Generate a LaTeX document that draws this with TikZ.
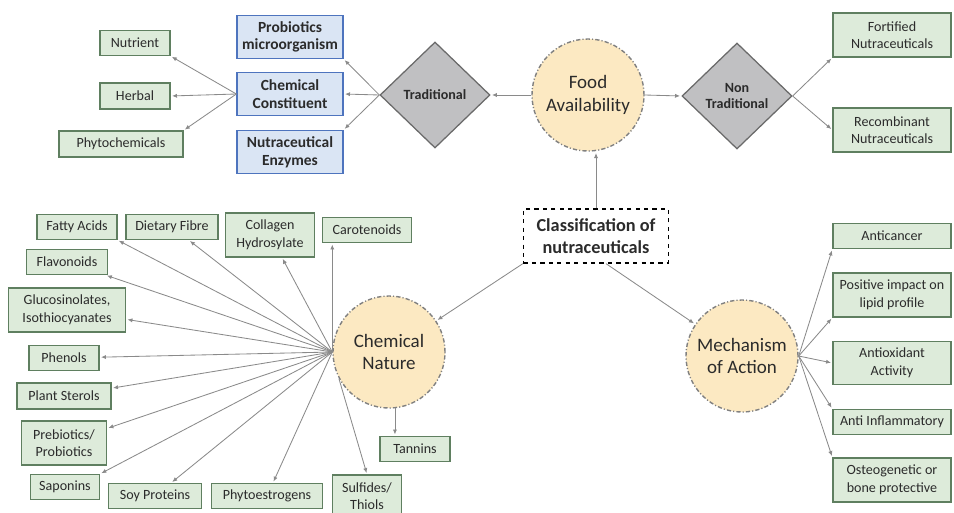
\documentclass[tikz,border=0pt]{standalone}
\usepackage{fontspec}
\setmainfont{Carlito}
\usetikzlibrary{shapes.geometric,arrows.meta}

\definecolor{vert}{HTML}{DDEBDA}
\definecolor{vertbord}{HTML}{5F7F60}
\definecolor{bleu}{HTML}{DAE5F4}
\definecolor{bleubord}{HTML}{4E74BE}
\definecolor{gris}{HTML}{C0C0C2}
\definecolor{grisbord}{HTML}{6A6A6A}
\definecolor{jaune}{HTML}{FCE9C2}
\definecolor{cerclebord}{HTML}{808080}
\definecolor{trait}{HTML}{8A8A8A}
\definecolor{encre}{HTML}{2B2B2B}

\begin{document}
\begin{tikzpicture}[x=0.025cm,y=-0.025cm,
    feuille/.style={draw=vertbord,fill=vert,line width=0.9pt,align=center,inner sep=1pt,
      text=encre,font=\fontsize{10}{12.5}\selectfont},
    bleubox/.style={draw=bleubord,fill=bleu,line width=0.9pt,align=center,inner sep=1pt,
      minimum width=2.65cm,minimum height=1.075cm,text=encre,font=\bfseries\fontsize{11}{12.5}\selectfont},
    losange/.style={diamond,draw=grisbord,fill=gris,line width=0.9pt,align=center,inner sep=0pt,
      minimum width=2.75cm,minimum height=2.65cm,text=encre,font=\bfseries\fontsize{10}{12}\selectfont},
    cercle/.style={circle,draw=cerclebord,fill=jaune,line width=1pt,align=center,inner sep=0pt,
      dash pattern=on 3pt off 1.5pt on 0.8pt off 1.5pt,minimum size=2.8cm,
      text=encre,font=\fontsize{13.5}{16}\selectfont},
    fleche/.style={draw=trait,line width=0.6pt,-{Latex[length=3.5pt,width=3pt]},shorten >=1pt}]

  \useasboundingbox (0,0) rectangle (954,513);

  % Noeud central
  \node[draw,dashed,line width=0.9pt,align=center,minimum width=3.625cm,minimum height=1.35cm,inner sep=1pt,
    text=encre,font=\bfseries\fontsize{13}{15.5}\selectfont] (classif) at (596,236) {Classification of\\ nutraceuticals};

  % Cercles
  \node[cercle] (food) at (588,95) {Food\\ Availability};
  \node[cercle] (chimnat) at (389,352) {Chemical\\ Nature};
  \node[cercle] (meca) at (742,356) {Mechanism\\ of Action};

  % Losanges
  \node[losange] (trad) at (435,95) {Traditional};
  \node[losange] (nontrad) at (737,96) {Non\\ Traditional};

  % Branche traditionnelle
  \node[bleubox] (probio) at (290,37) {Probiotics\\ microorganism};
  \node[bleubox] (chimconst) at (290,94) {Chemical\\ Constituent};
  \node[bleubox] (enzymes) at (290,152) {Nutraceutical\\ Enzymes};
  \node[feuille,minimum width=1.75cm,minimum height=0.625cm] (nutri) at (135,43) {Nutrient};
  \node[feuille,minimum width=1.75cm,minimum height=0.65cm] (herbal) at (135,96) {Herbal};
  \node[feuille,minimum width=3.1cm,minimum height=0.65cm] (phyto) at (121,144) {Phytochemicals};

  % Branche non traditionnelle
  \node[feuille,minimum width=2.95cm,minimum height=1.1cm] (fortif) at (892,35) {Fortified\\ Nutraceuticals};
  \node[feuille,minimum width=2.95cm,minimum height=1.1cm] (recomb) at (892,130) {Recombinant\\ Nutraceuticals};

  % Mecanisme d'action
  \foreach \nom/\y/\h/\txt in {anticancer/236/25/Anticancer,
      positive/295/44/{Positive impact on\\ lipid profile},
      antiox/363/43/{Antioxidant\\ Activity},
      antiinfl/422/25/Anti Inflammatory,
      osteo/480/44/{Osteogenetic or\\ bone protective}} {
    \node[feuille,minimum width=2.95cm,minimum height=\h*0.025cm] (\nom) at (892,\y) {\txt};
  }

  % Nature chimique
  \foreach \nom/\x/\y/\w/\h/\txt in {fatty/77/227/80/25/Fatty Acids,
      dietary/172/227/92/25/Dietary Fibre,
      collagen/270/235/89/44/{Collagen\\ Hydrosylate},
      carot/367/230/89/25/Carotenoids,
      flavo/67/262/81/25/Flavonoids,
      gluco/67/310/117/44/{Glucosinolates,\\ Isothiocyanates},
      phenols/64/358/70/25/Phenols,
      sterols/64/396/94/26/Plant Sterols,
      prebio/64/443/85/44/{Prebiotics/\\ Probiotics},
      saponins/65/487/69/25/Saponins,
      soy/155/496/93/25/Soy Proteins,
      phytoestro/267/496/111/25/Phytoestrogens,
      sulfides/367/496/69/42/{Sulfides/\\ Thiols},
      tannins/415/449/70/25/Tannins} {
    \node[feuille,minimum width=\w*0.025cm,minimum height=\h*0.025cm] (\nom) at (\x,\y) {\txt};
  }

  % Fleches du noeud central
  \draw[fleche] (classif.north) -- (classif.north |- food.south);
  \draw[fleche] (classif.south west) -- (chimnat);
  \draw[fleche] (classif.south) ++(10,0) -- (meca);

  % Fleches du haut
  \draw[fleche] (food.west) -- (trad.east);
  \draw[fleche] (food.east) -- (nontrad.west);
  \draw[fleche] (trad.west) -- (probio.south east);
  \draw[fleche] (trad.west) -- (chimconst.east);
  \draw[fleche] (trad.west) -- (enzymes.north east);
  \draw[fleche] (chimconst.west) -- (nutri.south east);
  \draw[fleche] (chimconst.west) -- (herbal.east);
  \draw[fleche] (chimconst.west) -- (phyto.north east);
  \draw[fleche] (nontrad.east) -- (fortif.south west);
  \draw[fleche] (nontrad.east) -- (recomb.west);

  % Fleches du mecanisme
  \draw[fleche] (meca.east) -- (anticancer.south west);
  \draw[fleche] (meca.east) -- (positive.south west);
  \draw[fleche] (meca.east) -- (antiox.west);
  \draw[fleche] (meca.east) -- (antiinfl.north west);
  \draw[fleche] (meca.east) -- (osteo.north west);

  % Fleches de la nature chimique
  \foreach \cible in {fatty.south east,dietary,collagen,flavo,gluco,phenols,sterols,
      prebio,saponins.north east,soy,phytoestro} {
    \draw[fleche] (chimnat.west) -- (\cible);
  }
  \draw[fleche] (chimnat.west) -- (chimnat.west |- carot.south);
  \draw[fleche] (chimnat.208) -- (sulfides.north);
  \draw[fleche] (chimnat.276) -- (chimnat.276 |- tannins.north);
\end{tikzpicture}
\end{document}
